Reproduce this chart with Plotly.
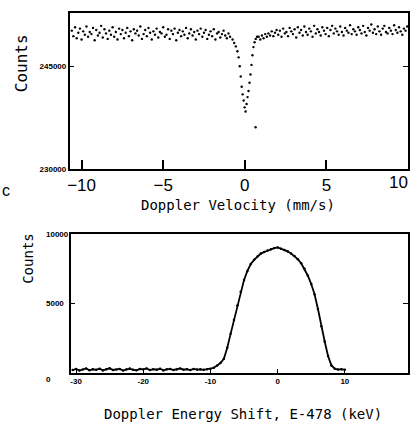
import plotly.graph_objects as go

# ---------------- Top panel: Mossbauer spectrum ----------------
vel_left = [-10.6, -10.5, -10.4, -10.3, -10.2, -10.1, -10.0, -9.9, -9.8, -9.7,
            -9.6, -9.5, -9.4, -9.3, -9.2, -9.1, -9.0, -8.9, -8.8, -8.7,
            -8.6, -8.5, -8.4, -8.3, -8.2, -8.1, -8.0, -7.9, -7.8, -7.7,
            -7.6, -7.5, -7.4, -7.3, -7.2, -7.1, -7.0, -6.9, -6.8, -6.7,
            -6.6, -6.5, -6.4, -6.3, -6.2, -6.1, -6.0, -5.9, -5.8, -5.7,
            -5.6, -5.5, -5.4, -5.3, -5.2, -5.1, -5.0, -4.9, -4.8, -4.7,
            -4.6, -4.5, -4.4, -4.3, -4.2, -4.1, -4.0, -3.9, -3.8, -3.7,
            -3.6, -3.5, -3.4, -3.3, -3.2, -3.1, -3.0, -2.9, -2.8, -2.7,
            -2.6, -2.5, -2.4, -2.3, -2.2, -2.1, -2.0, -1.9, -1.8, -1.7,
            -1.6, -1.5, -1.4, -1.3, -1.2, -1.1, -1.0, -0.9]
counts_left = [250200, 249400, 250700, 249100, 249900, 250500, 248900, 250100, 249600, 250800,
               249300, 250000, 249700, 250600, 248800, 250300, 249500, 249900, 250900, 249200,
               250400, 249800, 249000, 250200, 249600, 250700, 249300, 250000, 248900, 250500,
               249700, 250300, 249100, 249900, 250600, 249400, 250100, 248800, 250400, 249800,
               250200, 249500, 250800, 249000, 249700, 250300, 249400, 250600, 249900, 248900,
               250100, 249600, 250500, 249200, 250000, 249800, 250700, 249300, 249600, 250400,
               249000, 250200, 249700, 250500, 248800, 249900, 250300, 249400, 250100, 249600,
               250600, 249100, 249800, 250400, 249500, 250000, 248900, 250200, 249700, 250500,
               249300, 249900, 250300, 249000, 249600, 250100, 249400, 250400, 248900, 249800,
               250000, 249200, 249700, 250200, 249500, 249100, 249800, 249300]

vel_dip = [-0.75, -0.65, -0.55, -0.45, -0.38, -0.31, -0.25, -0.19, -0.13, -0.07,
           -0.01, 0.05, 0.11, 0.17, 0.23, 0.29, 0.35, 0.41, 0.47, 0.53,
           0.6, 0.67, 0.75, 0.66]
counts_dip = [248900, 248400, 247900, 247200, 246300, 245000, 243500, 242000, 240900, 240000,
              239000, 238400, 239500, 240500, 241400, 242600, 243800, 245200, 246600, 247800,
              248500, 249000, 249300, 236100]

vel_right = [0.85, 0.95, 1.05, 1.15, 1.25, 1.35, 1.45, 1.55, 1.65, 1.75,
             1.85, 1.95, 2.05, 2.15, 2.25, 2.35, 2.45, 2.55, 2.65, 2.75,
             2.85, 2.95, 3.05, 3.15, 3.25, 3.35, 3.45, 3.55, 3.65, 3.75,
             3.85, 3.95, 4.05, 4.15, 4.25, 4.35, 4.45, 4.55, 4.65, 4.75,
             4.85, 4.95, 5.05, 5.15, 5.25, 5.35, 5.45, 5.55, 5.65, 5.75,
             5.85, 5.95, 6.05, 6.15, 6.25, 6.35, 6.45, 6.55, 6.65, 6.75,
             6.85, 6.95, 7.05, 7.15, 7.25, 7.35, 7.45, 7.55, 7.65, 7.75,
             7.85, 7.95, 8.05, 8.15, 8.25, 8.35, 8.45, 8.55, 8.65, 8.75,
             8.85, 8.95, 9.05, 9.15, 9.25, 9.35, 9.45, 9.55, 9.65, 9.75,
             9.85, 9.95]
counts_right = [249300, 248900, 249500, 249100, 249700, 249300, 249800, 249500, 250100, 249400,
                249900, 250300, 249600, 250200, 249300, 250500, 249800, 250000, 249400, 250600,
                250100, 249700, 250400, 249200, 250700, 249900, 250300, 249500, 250800, 250000,
                249600, 250500, 250100, 249300, 250900, 249800, 250400, 250000, 249500, 250700,
                250200, 249700, 250600, 249400, 250300, 250900, 249800, 250500, 250100, 249600,
                250800, 250000, 249500, 250600, 250200, 249900, 251000, 249700, 250400, 250100,
                249600, 250700, 250300, 249800, 250900, 250000, 249500, 250600, 250200, 251100,
                249900, 250400, 249700, 250800, 250100, 249600, 250500, 250900, 250000, 249800,
                250600, 250200, 249700, 251000, 250300, 249900, 250700, 250100, 249600, 250500,
                250200, 250800]

top_xticks = [-10, -5, 0, 5]
top_xticklabels = ["\u221210", "\u22125", "0", "5"]
top_edge_tick = 10
top_edge_label = "10"
top_yticks = [230000, 245000]
top_yticklabels = ["230000", "245000"]

# ---------------- Bottom panel: Doppler energy shift ----------------
energy = [-30.5, -30.0, -29.5, -29.0, -28.5, -28.0, -27.5, -27.0, -26.5, -26.0,
          -25.5, -25.0, -24.5, -24.0, -23.5, -23.0, -22.5, -22.0, -21.5, -21.0,
          -20.5, -20.0, -19.5, -19.0, -18.5, -18.0, -17.5, -17.0, -16.5, -16.0,
          -15.5, -15.0, -14.5, -14.0, -13.5, -13.0, -12.5, -12.0, -11.5, -11.0,
          -10.5,
          -10.0, -9.5, -9.0, -8.5, -8.0, -7.5, -7.0, -6.5, -6.0, -5.5,
          -5.0, -4.5, -4.0, -3.5, -3.0, -2.5, -2.0, -1.5, -1.0, -0.5,
          0.0, 0.5, 1.0, 1.5, 2.0, 2.5, 3.0, 3.5, 4.0, 4.5,
          5.0, 5.5, 6.0, 6.5, 7.0, 7.5, 8.0, 8.5, 9.0, 9.5,
          10.0]
energy_counts = [180, 260, 150, 230, 300, 170, 240, 200, 280, 160,
                 250, 310, 190, 220, 270, 150, 240, 290, 200, 170,
                 260, 230, 300, 180, 250, 210, 280, 160, 240, 270,
                 190, 230, 300, 210, 250, 180, 270, 220, 240, 200,
                 250,
                 260, 350, 520, 700, 1000, 1800, 2800, 3800, 4850, 5850,
                 6700, 7350, 7850, 8150, 8400, 8600, 8720, 8830, 8920, 9000,
                 9050, 8950, 8870, 8760, 8600, 8420, 8200, 7900, 7500, 7000,
                 6400, 5650, 4600, 3350, 2250, 1200, 520, 280, 220, 250,
                 200]

bot_xticks = [-30, -20, -10, 0, 10, 20]
bot_xticklabels = ["-30", "-20", "-10", "0", "10", "20"]
bot_yticks = [0, 5000, 10000]
bot_yticklabels = ["0", "5000", "10000"]

W, H = 410, 430
def px(x):
    return x / W
def py(y):
    return 1 - y / H

fig = go.Figure()

fig.add_trace(go.Scatter(x=vel_left + vel_dip + vel_right,
                         y=counts_left + counts_dip + counts_right,
                         mode="markers", xaxis="x", yaxis="y",
                         marker=dict(size=2.4, color="black"),
                         showlegend=False, hoverinfo="skip"))

fig.add_trace(go.Scatter(x=energy, y=energy_counts,
                         mode="lines+markers", xaxis="x2", yaxis="y2",
                         line=dict(color="black", width=1.8),
                         marker=dict(size=2.5, color="black"),
                         showlegend=False, hoverinfo="skip"))

mono = "DejaVu Sans Mono"

fig.update_layout(
    width=W, height=H,
    margin=dict(l=0, r=0, t=0, b=0),
    paper_bgcolor="white", plot_bgcolor="white",
    xaxis=dict(domain=[px(68), px(408)], range=[-10.73, 10.0], anchor="y",
               showline=True, linecolor="black", linewidth=1.6, mirror=True,
               showgrid=False, zeroline=False,
               ticks="inside", ticklen=9, tickwidth=1.5, tickcolor="black",
               tickvals=top_xticks, ticktext=top_xticklabels,
               tickfont=dict(family="Liberation Sans", size=17, color="black")),
    yaxis=dict(domain=[py(171), py(13)], range=[230000, 252800], anchor="x",
               showline=True, linecolor="black", linewidth=1.6, mirror="ticks",
               showgrid=False, zeroline=False,
               ticks="inside", ticklen=5, tickwidth=1.3, tickcolor="black",
               tickvals=top_yticks, ticktext=top_yticklabels,
               tickfont=dict(family="Liberation Sans", size=8, color="black", weight="bold")),
    xaxis2=dict(domain=[px(69), px(408)], range=[-30.8, 19.4], anchor="y2",
                showline=True, linecolor="black", linewidth=1.6, mirror=True,
                showgrid=False, zeroline=False,
                ticks="inside", ticklen=4, tickwidth=1.3, tickcolor="black",
                tickvals=bot_xticks, ticktext=bot_xticklabels,
                tickfont=dict(family="Liberation Sans", size=8, color="black", weight="bold")),
    yaxis2=dict(domain=[py(377), py(237)], range=[0, 10000], anchor="x2",
                showline=True, linecolor="black", linewidth=1.6, mirror="ticks",
                showgrid=False, zeroline=False,
                ticks="inside", ticklen=5, tickwidth=1.3, tickcolor="black",
                tickvals=bot_yticks, showticklabels=False),
)

annotations = [
    dict(text="Counts", x=px(19), y=py(64), xref="paper", yref="paper",
         textangle=-90, showarrow=False, xanchor="center", yanchor="middle",
         font=dict(family=mono, size=16, color="black")),
    dict(text="Counts", x=px(26), y=py(261), xref="paper", yref="paper",
         textangle=-90, showarrow=False, xanchor="center", yanchor="middle",
         font=dict(family=mono, size=14, color="black")),
    dict(text="Doppler Velocity (mm/s)", x=px(237), y=py(207), xref="paper", yref="paper",
         showarrow=False, xanchor="center", yanchor="middle",
         font=dict(family=mono, size=14, color="black")),
    dict(text="Doppler Energy Shift, E-478 (keV)", x=px(242), y=py(419), xref="paper", yref="paper",
         showarrow=False, xanchor="center", yanchor="middle",
         font=dict(family=mono, size=14, color="black")),
    dict(text="c", x=px(4), y=py(193), xref="paper", yref="paper",
         showarrow=False, xanchor="center", yanchor="middle",
         font=dict(family="Liberation Sans", size=16, color="black")),
    dict(text=top_edge_label, x=top_edge_tick, y=py(185), xref="x", yref="paper",
         showarrow=False, xanchor="right", yanchor="middle", xshift=1,
         borderpad=0,
         font=dict(family="Liberation Sans", size=17, color="black")),
]
for val, lab in zip(bot_yticks, bot_yticklabels):
    annotations.append(dict(text=lab, x=px(42), y=val, xref="paper", yref="y2",
                            showarrow=False, xanchor="left", yanchor="middle",
                            yshift=-7 if val == 0 else 0,
                            font=dict(family="Liberation Sans", size=8, color="black", weight="bold")))
fig.update_layout(annotations=annotations)

fig.write_html("out.html")
